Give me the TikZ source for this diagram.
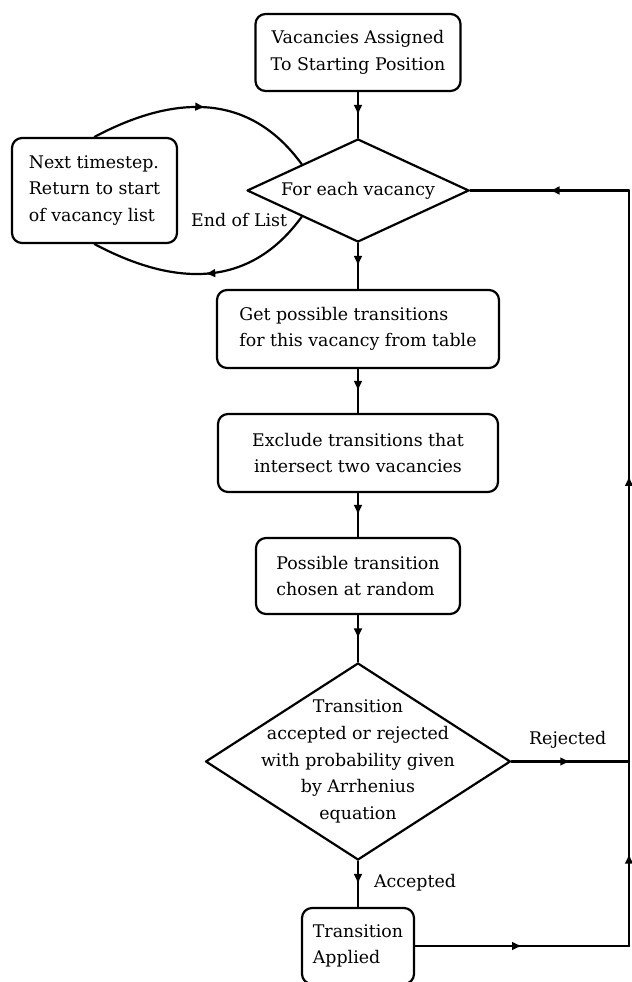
\documentclass[tikz,border=0pt]{standalone}
\usepackage{fontspec}
\setmainfont{DejaVu Serif}
\usetikzlibrary{shapes.geometric,arrows.meta,decorations.markings}
\begin{document}
\begin{tikzpicture}[x=.5pt,y=.5pt,line width=1.1pt,line cap=round,line join=round,
 font=\fontsize{8.7}{13.3}\selectfont,
 box/.style={draw,rounded corners=5pt,inner sep=0pt},
 choice/.style={draw,diamond,inner sep=0pt,align=center},
 tag/.style={anchor=base west,inner sep=0pt},
 midarrow/.style={postaction={decorate},decoration={markings,
  mark=at position .5 with {\arrow{Latex[length=5pt,width=4.5pt]}}}}]
\useasboundingbox (0,0) rectangle (632,982);
% main column
\node[box,minimum width=102.5pt,minimum height=38.5pt,align=center] (start) at (358,929.5)
 {Vacancies Assigned\\To Starting Position};
\node[choice,aspect=2.15,minimum width=111pt,minimum height=51.5pt] (each) at (358,791.5)
 {For each vacancy};
\node[box,minimum width=82.5pt,minimum height=52.5pt,align=left] (next) at (94.5,791.5)
 {Next timestep.\\Return to start\\of vacancy list};
\node[box,minimum width=141pt,minimum height=39pt,align=left] (get) at (358,653)
 {Get possible transitions\\for this vacancy from table};
\node[box,minimum width=140pt,minimum height=39pt,align=center] (excl) at (358,529)
 {Exclude transitions that\\intersect two vacancies};
\node[box,minimum width=102pt,minimum height=38pt,align=left] (pick) at (358,406)
 {Possible transition\\chosen at random};
\node[choice,minimum width=152.5pt,minimum height=98.5pt] (test) at (358,220.5) {};
\node[align=center] (testtxt) at (test)
 {Transition\\accepted or rejected\\with probability given\\by Arrhenius\\equation};
\node[box,minimum width=56pt,minimum height=38pt,align=left] (apply) at (358,36)
 {Transition\\Applied};
% return line on the right
\coordinate (r1) at (629,791.5);
\coordinate (r2) at (r1 |- test);
\coordinate (r3) at (r1 |- apply);
% connectors
\draw[midarrow] (start.south) -- (each.north);
\draw[midarrow] (each.south) -- (get.north);
\draw[midarrow] (get) -- (excl);
\draw[midarrow] (excl) -- (pick);
\draw[midarrow] (pick) -- (test.north);
\draw[midarrow] (test.south) -- (apply.north);
\draw[midarrow] (test.east) -- (r2);
\draw[midarrow] (r2) -- (r1);
\draw[midarrow] (r1) -- (each.east);
\draw[midarrow] (apply.east) -- (r3);
\draw[midarrow] (r3) -- (r2);
\draw[midarrow] (each.205) to[out=-126,in=-28,looseness=1.1] (next.south);
\draw[midarrow] (next.north) to[out=28,in=126,looseness=1.1] (each.155);
% labels
\node[tag] (endlist) at (190,755) {End of List};
\node[tag] (rej) at (528,237) {Rejected};
\node[tag] (acc) at (373,94) {Accepted};
\end{tikzpicture}
\end{document}
